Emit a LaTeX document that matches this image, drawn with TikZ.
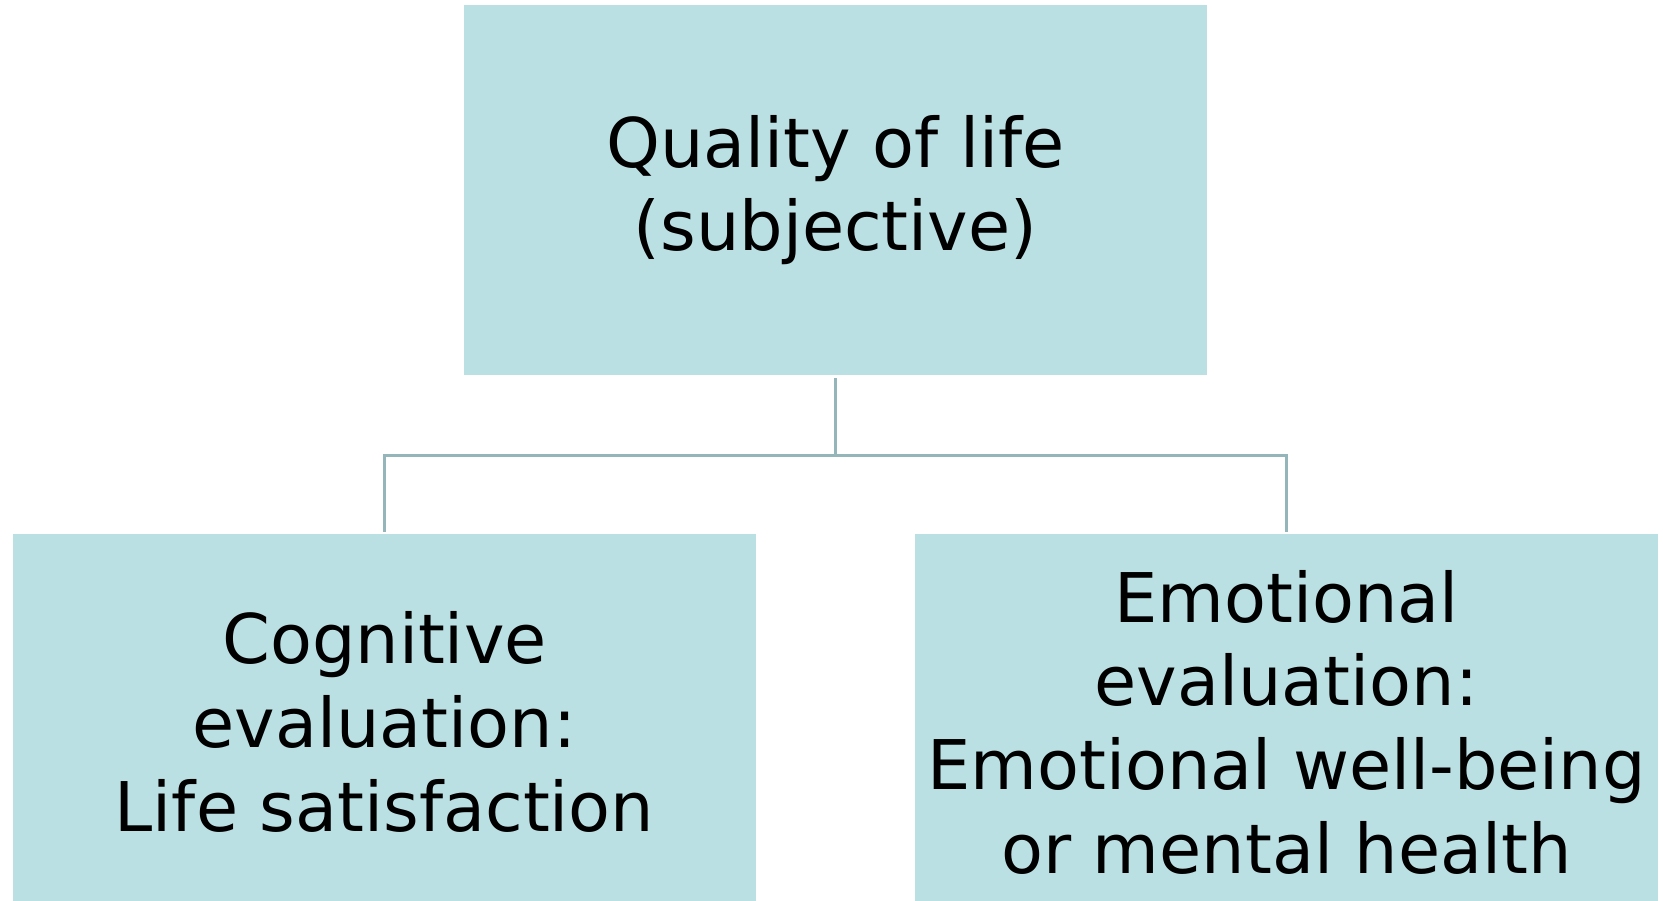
\documentclass[tikz,border=0pt]{standalone}
\usepackage{fontspec}
\setmainfont{DejaVu Sans}
\definecolor{boxfill}{HTML}{BBE0E3}
\definecolor{linkcol}{HTML}{94B5B9}

\begin{document}
\begin{tikzpicture}[x=0.02cm,y=-0.02cm,
  box/.style={rectangle,fill=boxfill,draw=none,minimum width=14.86cm,align=center,text=black,font=\fontsize{39}{47.6}\selectfont},
  link/.style={draw=linkcol,line width=1.7pt}]
\useasboundingbox (0,0) rectangle (1663,900);
\clip (0,0) rectangle (1663,900);

\node[box,minimum height=7.4cm] (qol) at (835.5,190) {Quality of life\\(subjective)};
\node[box,minimum height=7.52cm] (cog) at (384.5,722) {Cognitive\\evaluation:\\Life satisfaction};
\node[box,minimum height=7.52cm] (emo) at (1286.5,722) {Emotional\\evaluation:\\Emotional well-being\\or mental health};

\coordinate (fork) at (835.5,455);
\draw[link,shorten <=1.5pt] (qol.south) -- (qol.south |- fork);
\draw[link,shorten <=1.2pt,shorten >=1.2pt] (cog.north) |- (fork) -| (emo.north);

\end{tikzpicture}
\end{document}
